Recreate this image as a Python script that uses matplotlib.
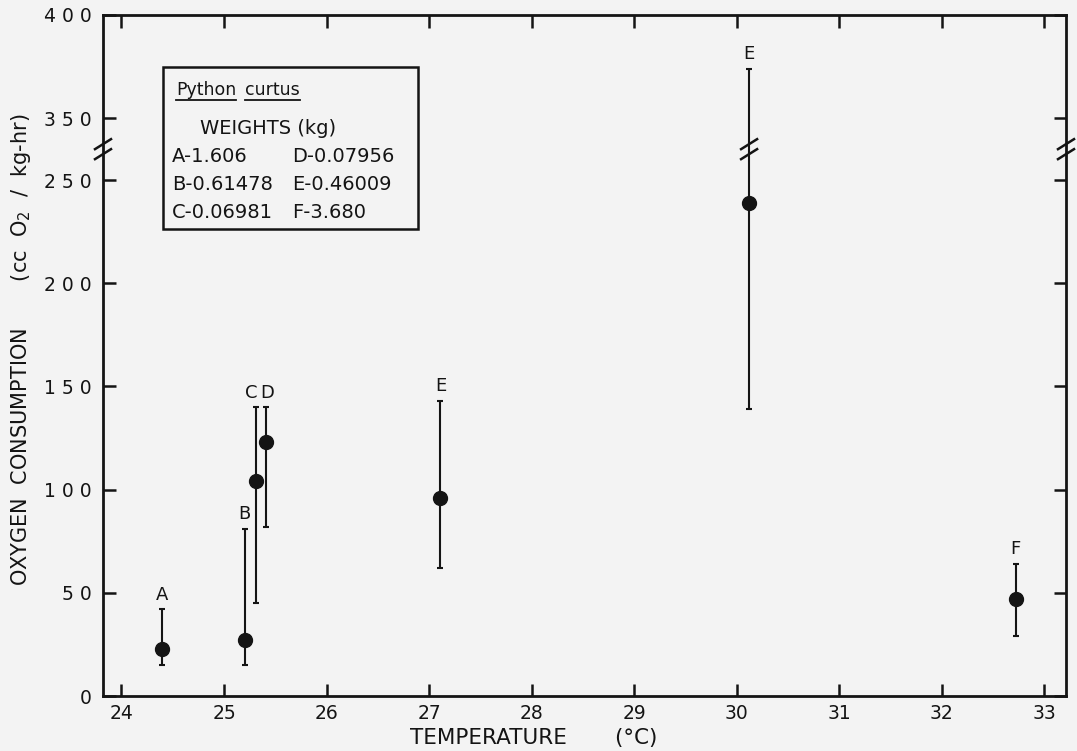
import numpy as np
import matplotlib
matplotlib.use("Agg")
import matplotlib.pyplot as plt
from matplotlib.lines import Line2D
from matplotlib.patches import Rectangle
from matplotlib.transforms import blended_transform_factory

# ---- data ----
labels = ["A", "B", "C", "D", "E", "E", "F"]
temperature = [24.40, 25.20, 25.31, 25.41, 27.11, 30.12, 32.72]
o2_mean = [23, 27, 104, 123, 96, 239, 47]
o2_low = [15, 15, 45, 82, 62, 139, 29]
o2_high = [42, 81, 140, 140, 143, 374, 64]

x_ticks = [24, 25, 26, 27, 28, 29, 30, 31, 32, 33]
y_ticks = [0, 50, 100, 150, 200, 250, 350, 400]
y_ticklabels = ["0", "5 0", "1 0 0", "1 5 0", "2 0 0", "2 5 0", "3 5 0", "4 0 0"]

species = ["Python", "curtus"]
legend_title = "WEIGHTS (kg)"
weights_col1 = ["A-1.606", "B-0.61478", "C-0.06981"]
weights_col2 = ["D-0.07956", "E-0.46009", "F-3.680"]

# ---- broken y scale: 250..350 compressed ----
BRK_LO, BRK_HI, SQ = 250.0, 350.0, 0.3
def fwd(v):
    v = np.asarray(v, dtype=float)
    return np.where(v <= BRK_LO, v,
           np.where(v >= BRK_HI, v - (BRK_HI - BRK_LO) * (1 - SQ),
                    BRK_LO + (v - BRK_LO) * SQ))
def inv(u):
    u = np.asarray(u, dtype=float)
    top = BRK_LO + (BRK_HI - BRK_LO) * SQ
    return np.where(u <= BRK_LO, u,
           np.where(u >= top, u + (BRK_HI - BRK_LO) * (1 - SQ),
                    BRK_LO + (u - BRK_LO) / SQ))

INK = "#141414"
W, H = 1077, 751
fig = plt.figure(figsize=(W / 100, H / 100), dpi=100)
bg = "#f3f3f3"
fig.patch.set_facecolor(bg)
L, R, T, B = 103, 1066, 15, 696
ax = fig.add_axes([L / W, 1 - B / H, (R - L) / W, (B - T) / H])
ax.set_facecolor(bg)
ax.set_yscale("function", functions=(fwd, inv))
ax.set_xlim(23.82, 33.21)
ax.set_ylim(0, 400)

for s in ax.spines.values():
    s.set_linewidth(2.0)
    s.set_color(INK)

ax.set_xticks(x_ticks)
ax.set_xticklabels([str(t) for t in x_ticks])
ax.set_yticks(y_ticks)
ax.set_yticklabels(y_ticklabels)
ax.minorticks_off()
ax.tick_params(axis="both", direction="in", length=9, width=1.8, color=INK,
               top=True, right=True, labelsize=13.5, labelcolor=INK)
ax.tick_params(axis="y", pad=8)
ax.tick_params(axis="x", pad=6)

mean = np.array(o2_mean, float)
yerr = np.vstack([mean - np.array(o2_low, float), np.array(o2_high, float) - mean])
ax.errorbar(temperature, mean, yerr=yerr, fmt="o", color=INK,
            markersize=10, elinewidth=1.5, capsize=2.5, capthick=1.5, zorder=3)

label_dx = [0, 0, -3, 0.7, 0, 0, 0]
for lab, xv, top, dx in zip(labels, temperature, o2_high, label_dx):
    ax.annotate(lab, (xv, top), xytext=(dx, 4), textcoords="offset points",
                ha="center", va="bottom", fontsize=13, color=INK)

# ---- break marks at value 300 ----
ybrk = 300
fig.canvas.draw()
def draw_break(xv, xtrans):
    base = blended_transform_factory(xtrans, ax.transData)
    px, py = base.transform((xv, ybrk))
    for off in (-5, 5):
        fig.add_artist(Line2D([(px - 8) / W, (px + 8) / W],
                              [(py - 5 + off) / H, (py + 5 + off) / H],
                              transform=fig.transFigure, color=INK,
                              lw=1.8, zorder=5))
draw_break(0.0, ax.transAxes)
draw_break(1.0, ax.transAxes)
draw_break(temperature[5], ax.transData)

ax.set_xlabel("TEMPERATURE       (°C)", fontsize=15.5, color=INK)
ax.xaxis.set_label_coords((534 - L) / (R - L), -(738 - B) / (B - T))
ax.xaxis.label.set_verticalalignment("center")
ax.set_ylabel("OXYGEN  CONSUMPTION       (cc  O$_2$  /  kg-hr)", fontsize=15, color=INK)
ax.yaxis.set_label_coords((21 - L) / (R - L), 1 - (350 - T) / (B - T))
ax.yaxis.label.set_verticalalignment("center")

# ---- legend box ----
def fx(x):
    return x / W
def fy(y):
    return 1 - y / H
box = Rectangle((fx(163), fy(229)), (418 - 163) / W, (229 - 67) / H,
                transform=fig.transFigure, fill=False, lw=1.8, ec=INK, zorder=6)
fig.add_artist(box)
r = fig.canvas.get_renderer()
xcur = 176
for word in species:
    t = fig.text(fx(xcur), fy(90), word, fontsize=12.5, va="center", ha="left", color=INK)
    bb = t.get_window_extent(r)
    fig.add_artist(Line2D([bb.x0 / W, bb.x1 / W], [(bb.y0 - 1) / H, (bb.y0 - 1) / H],
                          transform=fig.transFigure, color=INK, lw=1.3))
    xcur = bb.x1 + 9
fig.text(fx(200), fy(129), legend_title, fontsize=14, va="center", ha="left", color=INK)
for i, (a, b) in enumerate(zip(weights_col1, weights_col2)):
    yy = 157 + 28 * i
    fig.text(fx(172), fy(yy), a, fontsize=14, va="center", ha="left", color=INK)
    fig.text(fx(292), fy(yy), b, fontsize=14, va="center", ha="left", color=INK)

fig.savefig("out.png", dpi=100, facecolor=bg)
